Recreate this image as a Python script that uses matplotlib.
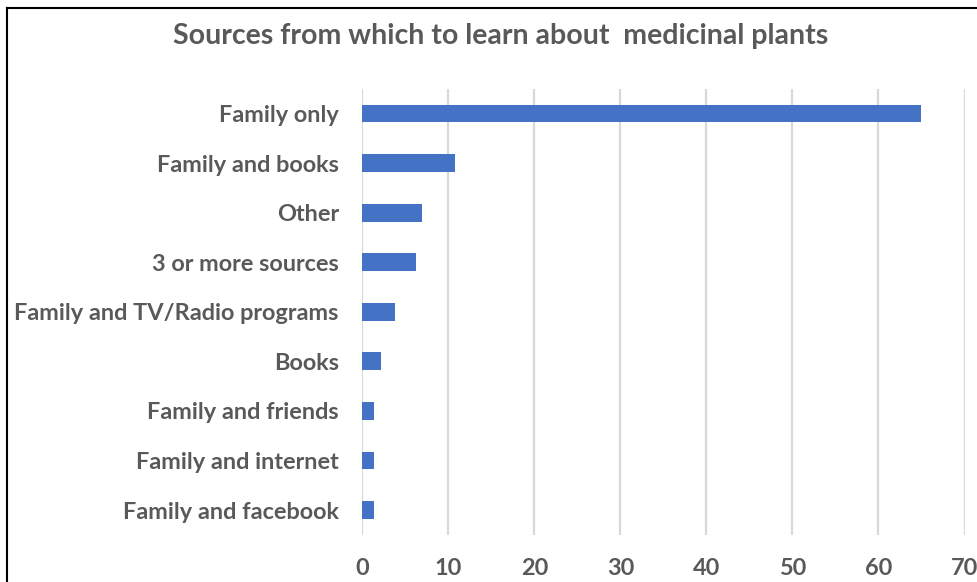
import matplotlib
matplotlib.use("Agg")
import matplotlib.pyplot as plt
from matplotlib.lines import Line2D

# data
sources = ["Family only", "Family and books", "Other", "3 or more sources",
           "Family and TV/Radio programs", "Books", "Family and friends",
           "Family and internet", "Family and facebook"]
percent = [65, 10.8, 6.9, 6.2, 3.8, 2.2, 1.4, 1.4, 1.4]
xticks = [0, 10, 20, 30, 40, 50, 60, 70]

grey = "#595959"
plt.rcParams["font.family"] = ["Lato", "DejaVu Sans"]

fig = plt.figure(figsize=(9.78, 5.82), dpi=100)
ax = fig.add_axes([0.3706, 0.0811, 0.6156, 0.7665])

y = list(range(len(sources)))
ax.barh(y, percent, height=0.36, color="#4472C4", zorder=3)

ax.set_ylim(len(sources) - 0.5, -0.5)
ax.set_xlim(0, 70)
ax.set_xticks(xticks)
ax.set_yticks(y)
ax.set_yticklabels(sources)
ax.grid(axis="x", color="#D9D9D9", linewidth=1.6, zorder=0)
ax.grid(axis="y", visible=False)
for s in ax.spines.values():
    s.set_visible(False)
ax.tick_params(axis="both", length=0, colors=grey, labelsize=16.9)
ax.tick_params(axis="y", pad=17)
ax.tick_params(axis="x", pad=17)
for lab in ax.get_xticklabels() + ax.get_yticklabels():
    lab.set_fontweight("bold")

fig.text(0.512, 0.938, "Sources from which to learn about  medicinal plants",
         ha="center", va="center", fontsize=20.5, fontweight="bold", color=grey)

# frame of the screenshot (left and top)
fig.add_artist(Line2D([7/978, 7/978], [0, 1 - 8/582], color="black", lw=1.5,
                      transform=fig.transFigure))
fig.add_artist(Line2D([7/978, 1], [1 - 8/582, 1 - 8/582], color="black", lw=1.5,
                      transform=fig.transFigure))

fig.savefig("out.png", dpi=100, facecolor="white")
